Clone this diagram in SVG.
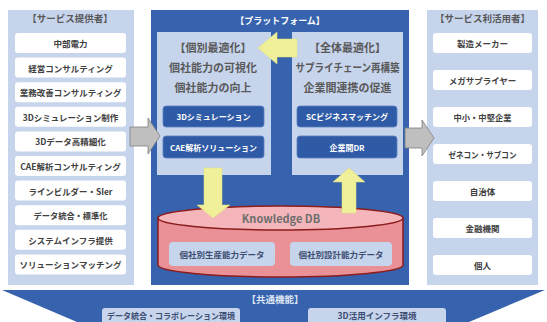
<svg xmlns="http://www.w3.org/2000/svg" width="547" height="322" viewBox="0 0 547 322">
<defs>
<style>
text{font-family:"Noto Sans CJK JP","Noto Sans",sans-serif;font-weight:bold;text-anchor:middle;dominant-baseline:central}
.panel{fill:#c6d4ec}
.wbox{fill:#ffffff}
.wt{fill:#404040;font-size:8.5px}
.title{fill:#595959;font-size:9.5px}
.blue{fill:#3762ad}
.inner{fill:#c6d4ec}
.it{fill:#595959;font-size:11px}
.btn{fill:#2f5ba6;stroke:#5b80c0;stroke-width:0.8}
.bt{fill:#ffffff;font-size:8px}
.lbox{fill:#c6d4ec}
.lt{fill:#3c4d72;font-size:8.5px}
.garrow{fill:#bfbfbf;stroke:#7f7f7f;stroke-width:0.8}
.yarrow{fill:#f0f09a;stroke:#e0e07a;stroke-width:0.5}
</style>
</defs>
<rect width="547" height="322" fill="#ffffff"/>

<g id="providers">
<rect class="panel" x="8" y="10" width="126" height="275"/>
<text class="title" x="70" y="18">【サービス提供者】</text>
<g id="p1"><rect class="wbox" x="15" y="33" width="111" height="20" rx="3"/><text class="wt" x="70.5" y="43">中部電力</text></g>
<g id="p2"><rect class="wbox" x="15" y="57.6" width="111" height="20" rx="3"/><text class="wt" x="70.5" y="67.6">経営コンサルティング</text></g>
<g id="p3"><rect class="wbox" x="15" y="82.2" width="111" height="20" rx="3"/><text class="wt" x="70.5" y="92.2">業務改善コンサルティング</text></g>
<g id="p4"><rect class="wbox" x="15" y="106.8" width="111" height="20" rx="3"/><text class="wt" x="70.5" y="116.8">3Dシミュレーション制作</text></g>
<g id="p5"><rect class="wbox" x="15" y="131.4" width="111" height="20" rx="3"/><text class="wt" x="70.5" y="141.4">3Dデータ高精細化</text></g>
<g id="p6"><rect class="wbox" x="15" y="156" width="111" height="20" rx="3"/><text class="wt" x="70.5" y="166">CAE解析コンサルティング</text></g>
<g id="p7"><rect class="wbox" x="15" y="180.6" width="111" height="20" rx="3"/><text class="wt" x="70.5" y="190.6" textLength="84" lengthAdjust="spacingAndGlyphs">ラインビルダー・SIer</text></g>
<g id="p8"><rect class="wbox" x="15" y="205.2" width="111" height="20" rx="3"/><text class="wt" x="70.5" y="215.2" textLength="74" lengthAdjust="spacingAndGlyphs">データ統合・標準化</text></g>
<g id="p9"><rect class="wbox" x="15" y="229.8" width="111" height="20" rx="3"/><text class="wt" x="70.5" y="239.8">システムインフラ提供</text></g>
<g id="p10"><rect class="wbox" x="15" y="254.4" width="111" height="20" rx="3"/><text class="wt" x="70.5" y="264.4">ソリューションマッチング</text></g>
</g>

<g id="platform">
<rect class="blue" x="151" y="10" width="258" height="275"/>
<text x="280" y="20" fill="#ffffff" font-size="9px">【プラットフォーム】</text>
</g>

<g id="individual">
<rect class="inner" x="157" y="32" width="114" height="143"/>
<text class="it" x="213" y="47">【個別最適化】</text>
<text class="it" x="213" y="67">個社能力の可視化</text>
<text class="it" x="213" y="87">個社能力の向上</text>
<g id="b1"><rect class="btn" x="163" y="106" width="101" height="21" rx="3"/><text class="bt" x="213.5" y="116.5">3Dシミュレーション</text></g>
<g id="b2"><rect class="btn" x="163" y="136" width="101" height="22" rx="3"/><text class="bt" x="213.5" y="147">CAE解析ソリューション</text></g>
</g>

<g id="overall">
<rect class="inner" x="292" y="32" width="111" height="143"/>
<text class="it" x="347.5" y="47">【全体最適化】</text>
<text class="it" x="347.5" y="67" textLength="104" lengthAdjust="spacingAndGlyphs">サプライチェーン再構築</text>
<text class="it" x="347.5" y="87">企業間連携の促進</text>
<g id="b3"><rect class="btn" x="297" y="106" width="100" height="21" rx="3"/><text class="bt" x="347" y="116.5">SCビジネスマッチング</text></g>
<g id="b4"><rect class="btn" x="297" y="136" width="100" height="22" rx="3"/><text class="bt" x="347" y="147">企業間DR</text></g>
</g>

<g id="knowledge-db">
<path d="M158,218 L158,265 A122.5,12 0 0 0 403,265 L403,218 Z" fill="#e99197" stroke="#8c1d1d" stroke-width="1.5"/>
<ellipse cx="280.5" cy="218" rx="122.5" ry="12" fill="#f4b6ba" stroke="#8c1d1d" stroke-width="1.5"/>
<text x="281" y="218" fill="#6e6e6e" font-size="11px" font-family="'Noto Sans',sans-serif">Knowledge DB</text>
<g id="d1"><rect class="lbox" x="169" y="242" width="106" height="24" rx="4"/><text class="lt" x="222" y="254">個社別生産能力データ</text></g>
<g id="d2"><rect class="lbox" x="290" y="242" width="102" height="24" rx="4"/><text class="lt" x="341" y="254">個社別設計能力データ</text></g>
</g>

<g id="users">
<rect class="panel" x="427" y="10" width="111" height="275"/>
<text class="title" x="482.5" y="18">【サービス利活用者】</text>
<g id="u1"><rect class="wbox" x="433" y="33" width="99" height="20" rx="3"/><text class="wt" x="482.5" y="43">製造メーカー</text></g>
<g id="u2"><rect class="wbox" x="433" y="70" width="99" height="20" rx="3"/><text class="wt" x="482.5" y="80">メガサプライヤー</text></g>
<g id="u3"><rect class="wbox" x="433" y="107" width="99" height="20" rx="3"/><text class="wt" x="482.5" y="117" textLength="58" lengthAdjust="spacingAndGlyphs">中小・中堅企業</text></g>
<g id="u4"><rect class="wbox" x="433" y="144" width="99" height="20" rx="3"/><text class="wt" x="482.5" y="154" textLength="68" lengthAdjust="spacingAndGlyphs">ゼネコン・サブコン</text></g>
<g id="u5"><rect class="wbox" x="433" y="181" width="99" height="20" rx="3"/><text class="wt" x="482.5" y="191">自治体</text></g>
<g id="u6"><rect class="wbox" x="433" y="218" width="99" height="20" rx="3"/><text class="wt" x="482.5" y="228">金融機関</text></g>
<g id="u7"><rect class="wbox" x="433" y="255" width="99" height="20" rx="3"/><text class="wt" x="482.5" y="265">個人</text></g>
</g>

<g id="common">
<polygon class="blue" points="2,290 545,290 469,322 77,322"/>
<text x="275" y="299" fill="#dfe6f4" font-size="9.5px" font-weight="normal">【共通機能】</text>
<g id="c1"><rect class="lbox" x="102" y="308" width="138" height="20" rx="3"/><text class="lt" x="171" y="315" textLength="128" lengthAdjust="spacingAndGlyphs">データ統合・コラボレーション環境</text></g>
<g id="c2"><rect class="lbox" x="308" y="308" width="138" height="20" rx="3"/><text class="lt" x="377" y="315">3D活用インフラ環境</text></g>
</g>

<g id="connectors">
<polygon class="garrow" points="130,127 148,127 148,118 160,136 148,154 148,146 130,146"/>
<polygon class="garrow" points="405,128 422,128 422,120 434,138 422,156 422,148 405,148"/>
<polygon class="yarrow" points="297,39 277,39 277,32 258,48 277,64 277,57 297,57"/>
<polygon class="yarrow" points="204,168 222,168 222,205 230,205 213,218 197,205 204,205"/>
<polygon class="yarrow" points="342,213 356,213 356,182 365,182 349,168 333,182 342,182"/>
</g>
</svg>
